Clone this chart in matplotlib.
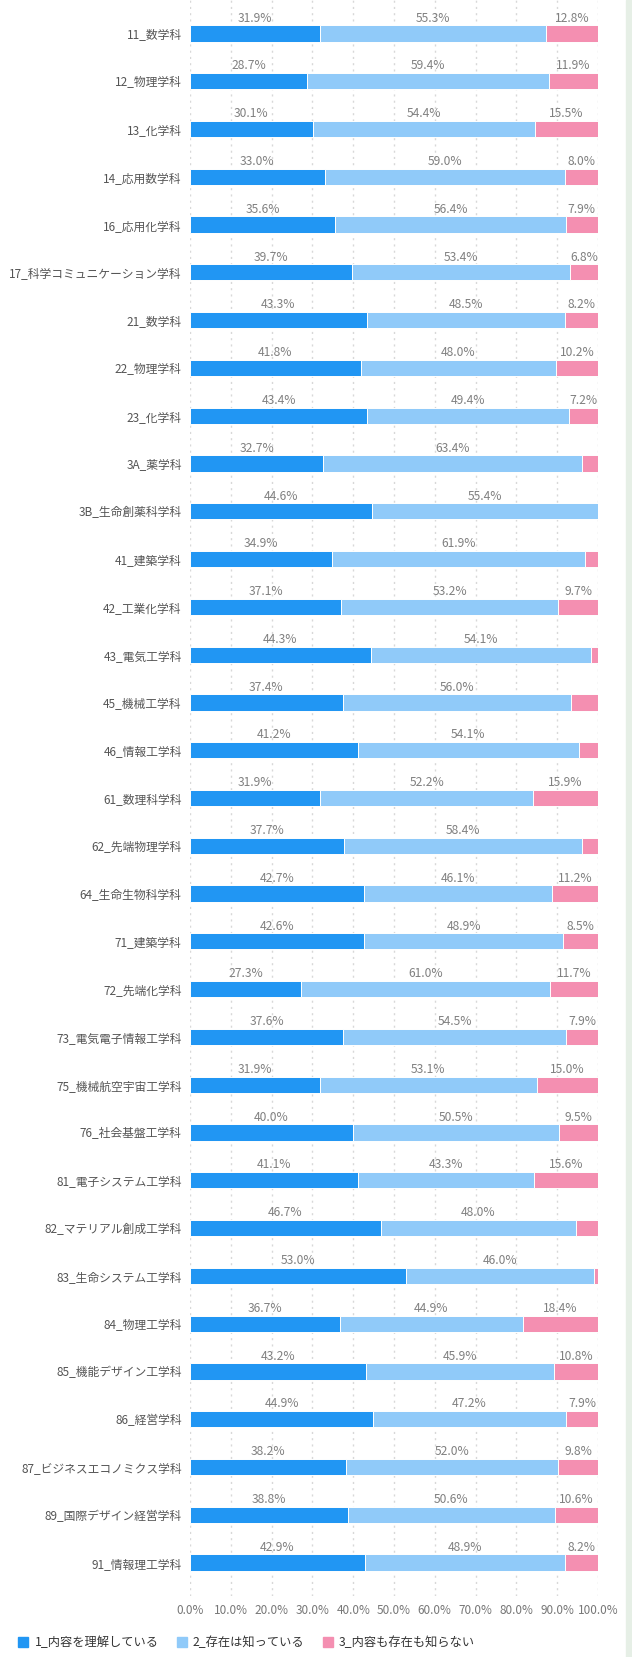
import matplotlib
matplotlib.use("Agg")
import matplotlib.pyplot as plt
from matplotlib.lines import Line2D
from matplotlib.patches import Rectangle
import numpy as np

plt.rcParams['font.family'] = ['Noto Sans CJK JP', 'DejaVu Sans']

departments = ["11_数学科", "12_物理学科", "13_化学科", "14_応用数学科", "16_応用化学科",
               "17_科学コミュニケーション学科", "21_数学科", "22_物理学科", "23_化学科",
               "3A_薬学科", "3B_生命創薬科学科", "41_建築学科", "42_工業化学科", "43_電気工学科",
               "45_機械工学科", "46_情報工学科", "61_数理科学科", "62_先端物理学科",
               "64_生命生物科学科", "71_建築学科", "72_先端化学科", "73_電気電子情報工学科",
               "75_機械航空宇宙工学科", "76_社会基盤工学科", "81_電子システム工学科",
               "82_マテリアル創成工学科", "83_生命システム工学科", "84_物理工学科",
               "85_機能デザイン工学科", "86_経営学科", "87_ビジネスエコノミクス学科",
               "89_国際デザイン経営学科", "91_情報理工学科"]
understand = [31.9, 28.7, 30.1, 33.0, 35.6, 39.7, 43.3, 41.8, 43.4, 32.7, 44.6, 34.9, 37.1,
              44.3, 37.4, 41.2, 31.9, 37.7, 42.7, 42.6, 27.3, 37.6, 31.9, 40.0, 41.1, 46.7,
              53.0, 36.7, 43.2, 44.9, 38.2, 38.8, 42.9]
know_only = [55.3, 59.4, 54.4, 59.0, 56.4, 53.4, 48.5, 48.0, 49.4, 63.4, 55.4, 61.9, 53.2,
             54.1, 56.0, 54.1, 52.2, 58.4, 46.1, 48.9, 61.0, 54.5, 53.1, 50.5, 43.3, 48.0,
             46.0, 44.9, 45.9, 47.2, 52.0, 50.6, 48.9]
unknown = [12.8, 11.9, 15.5, 8.0, 7.9, 6.8, 8.2, 10.2, 7.2, 3.9, 0.0, 3.2, 9.7,
           1.6, 6.6, 4.7, 15.9, 3.9, 11.2, 8.5, 11.7, 7.9, 15.0, 9.5, 15.6, 5.3,
           1.0, 18.4, 10.8, 7.9, 9.8, 10.6, 8.2]
series_names = ["1_内容を理解している", "2_存在は知っている", "3_内容も存在も知らない"]
colors = ["#2196F3", "#90CAF9", "#F48FB1"]
min_label = 6.7  # labels on narrower segments are hidden
xticks = np.arange(0, 101, 10)

fig = plt.figure(figsize=(6.32, 16.57), dpi=100)
ax = fig.add_axes([190/632, 1 - 1596/1657, 408/632, 1596/1657])

vals = np.array([understand, know_only, unknown])
tot = vals.sum(axis=0)
norm = vals / tot * 100
y = np.arange(len(departments))
left = np.zeros(len(departments))
for k in range(3):
    ax.barh(y, norm[k], left=left, height=0.34, color=colors[k],
            edgecolor="white", linewidth=0.7, zorder=3)
    for i in range(len(departments)):
        if vals[k, i] >= min_label:
            ax.text(left[i] + norm[k, i] / 2, y[i] - 0.32, f"{vals[k, i]:.1f}%",
                    ha="center", va="center", fontsize=8.7, color="#808080")
    left += norm[k]

ax.set_ylim(len(departments) - 0.3, -0.7)
ax.set_xlim(0, 100)
ax.set_yticks(y)
ax.set_yticklabels(departments, fontsize=8.5, color="#555555")
ax.set_xticks(xticks)
ax.set_xticklabels([f"{v:.1f}%" for v in xticks], fontsize=8.5, color="#777777")
ax.tick_params(axis="y", length=0, pad=6)
ax.tick_params(axis="x", length=0, pad=6)
ax.grid(axis="x", color="#d8d8d8", linestyle=(0, (1.5, 3)), linewidth=1, zorder=0)
for s in ax.spines.values():
    s.set_visible(False)

handles = [Line2D([], [], marker="s", linestyle="", markersize=7, color=c) for c in colors]
fig.legend(handles, series_names, loc="lower left", bbox_to_anchor=(0.01, -0.002),
           ncol=3, frameon=False, fontsize=8.8, handletextpad=0.4, columnspacing=1.4,
           handlelength=1.0)
for t in fig.legends[0].get_texts():
    t.set_color("#333333")

fig.patches.append(Rectangle((626/632, 0), 6/632, 1, transform=fig.transFigure,
                             color="#e6efe6", zorder=0))

fig.savefig("out.png", dpi=100)
